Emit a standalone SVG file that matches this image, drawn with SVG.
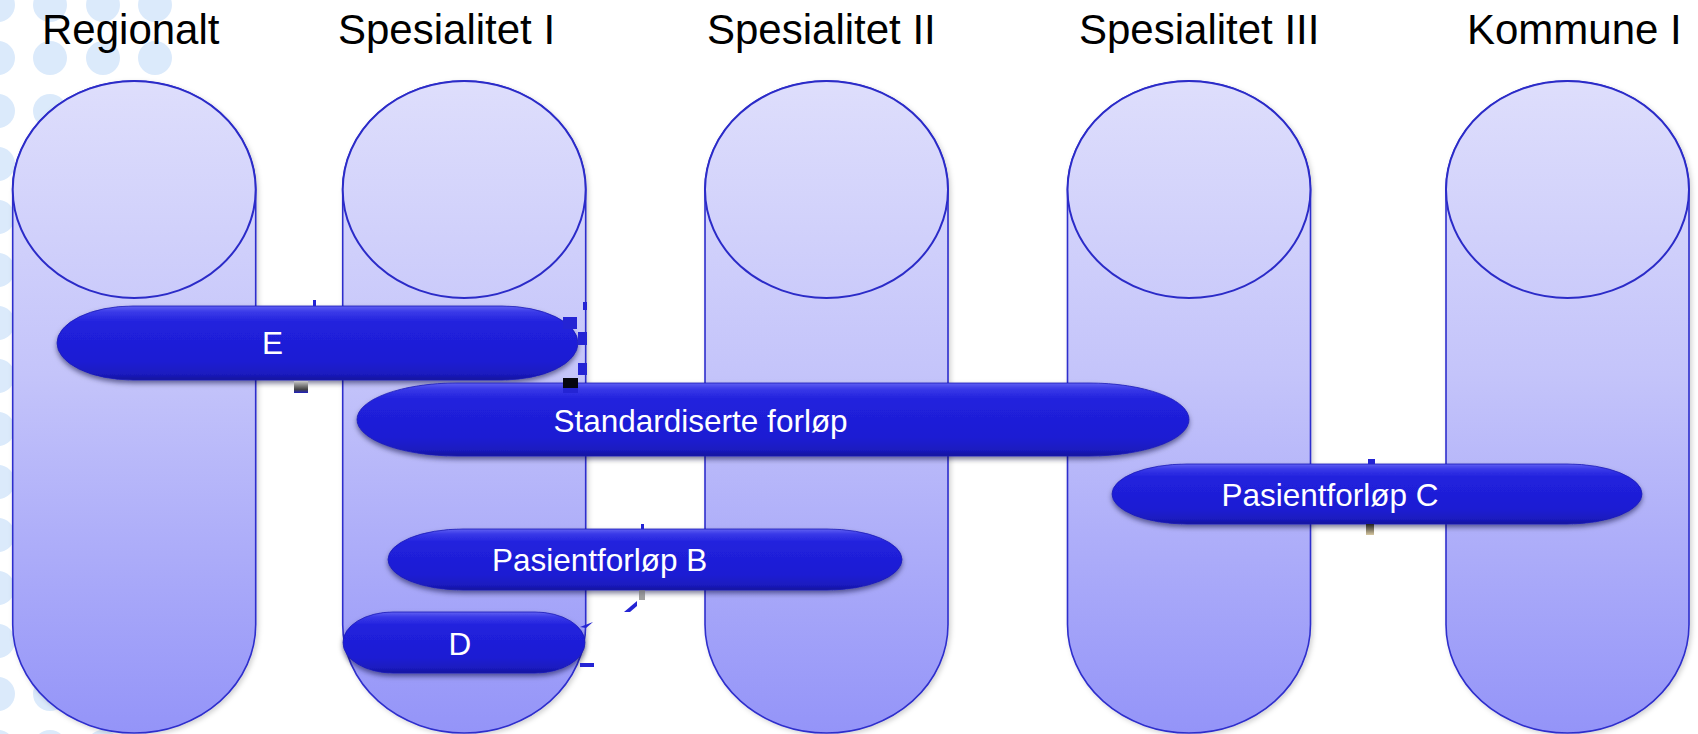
<svg xmlns="http://www.w3.org/2000/svg" width="1698" height="734" viewBox="0 0 1698 734">
<style>
.title{font-family:"Liberation Sans",Arial,sans-serif;font-size:42px;fill:#000}
.lbl{font-family:"Liberation Sans",Arial,sans-serif;font-size:31.5px;fill:#fff}
.col{fill:url(#colGrad);stroke:#2e2ecc;stroke-width:1.6;filter:url(#colShadow)}
.cap{fill:url(#colGrad);stroke:#2b2bc8;stroke-width:2}
.pill{fill:url(#pillGrad);stroke:#1a1ab8;stroke-width:0.8;filter:url(#pillShadow)}
.dot{fill:#dbeafb}
.mk{fill:#2424d4}
</style>
<defs>
<linearGradient id="colGrad" gradientUnits="userSpaceOnUse" x1="0" y1="81" x2="0" y2="733">
<stop offset="0" stop-color="#dedefc"/>
<stop offset="0.45" stop-color="#c4c4fa"/>
<stop offset="1" stop-color="#9494f8"/>
</linearGradient>
<linearGradient id="pillGrad" x1="0" y1="0" x2="0" y2="1">
<stop offset="0" stop-color="#6060f2"/>
<stop offset="0.08" stop-color="#3a3ae8"/>
<stop offset="0.22" stop-color="#2121dd"/>
<stop offset="0.75" stop-color="#1d1dd3"/>
<stop offset="0.92" stop-color="#1a1abf"/>
<stop offset="1" stop-color="#14149c"/>
</linearGradient>
<linearGradient id="grayGrad" x1="0" y1="0" x2="0" y2="1">
<stop offset="0" stop-color="#c8c8c8"/>
<stop offset="0.7" stop-color="#444"/>
<stop offset="1" stop-color="#2020c0"/>
</linearGradient>
<linearGradient id="tanGrad" x1="0" y1="0" x2="0" y2="1">
<stop offset="0" stop-color="#222"/>
<stop offset="1" stop-color="#d8c8a0"/>
</linearGradient>
<filter id="colShadow" x="-10%" y="-10%" width="120%" height="120%">
<feDropShadow dx="2" dy="2" stdDeviation="2.5" flood-color="#000" flood-opacity="0.18"/>
</filter>
<filter id="pillShadow" x="-10%" y="-20%" width="120%" height="150%">
<feDropShadow dx="0" dy="3" stdDeviation="2.5" flood-color="#000030" flood-opacity="0.5"/>
</filter>
</defs>
<rect width="1698" height="734" fill="#fff"/>
<g id="background-dots">
<circle class="dot" cx="-2" cy="5" r="17"/><circle class="dot" cx="50" cy="5" r="17"/><circle class="dot" cx="103" cy="5" r="17"/><circle class="dot" cx="155" cy="5" r="17"/>
<circle class="dot" cx="-2" cy="58" r="17"/><circle class="dot" cx="50" cy="58" r="17"/><circle class="dot" cx="103" cy="58" r="17"/><circle class="dot" cx="155" cy="58" r="17"/>
<circle class="dot" cx="-2" cy="111" r="17"/><circle class="dot" cx="50" cy="111" r="17"/><circle class="dot" cx="103" cy="111" r="17"/><circle class="dot" cx="155" cy="111" r="17"/>
<circle class="dot" cx="-2" cy="164" r="17"/><circle class="dot" cx="-2" cy="217" r="17"/><circle class="dot" cx="-2" cy="270" r="17"/><circle class="dot" cx="-2" cy="323" r="17"/><circle class="dot" cx="-2" cy="376" r="17"/><circle class="dot" cx="-2" cy="429" r="17"/><circle class="dot" cx="-2" cy="482" r="17"/><circle class="dot" cx="-2" cy="535" r="17"/><circle class="dot" cx="-2" cy="588" r="17"/><circle class="dot" cx="-2" cy="641" r="17"/><circle class="dot" cx="-2" cy="694" r="17"/><circle class="dot" cx="-2" cy="747" r="17"/>
<circle class="dot" cx="50" cy="641" r="17"/><circle class="dot" cx="50" cy="694" r="17"/><circle class="dot" cx="50" cy="747" r="17"/><circle class="dot" cx="103" cy="747" r="17"/>
</g>
<g id="titles">
<text class="title" x="42" y="44">Regionalt</text>
<text class="title" x="338" y="44">Spesialitet I</text>
<text class="title" x="707" y="44">Spesialitet II</text>
<text class="title" x="1079" y="44">Spesialitet III</text>
<text class="title" x="1467" y="44">Kommune I</text>
</g>
<g id="col-regionalt">
<rect class="col" x="12.7" y="81" width="243" height="652" rx="121.5" ry="108.5"/>
<ellipse class="cap" cx="134.2" cy="189.5" rx="121.5" ry="108.5"/>
</g>
<g id="col-spesialitet-1">
<rect class="col" x="342.7" y="81" width="243" height="652" rx="121.5" ry="108.5"/>
<ellipse class="cap" cx="464.2" cy="189.5" rx="121.5" ry="108.5"/>
</g>
<g id="col-spesialitet-2">
<rect class="col" x="705" y="81" width="243" height="652" rx="121.5" ry="108.5"/>
<ellipse class="cap" cx="826.5" cy="189.5" rx="121.5" ry="108.5"/>
</g>
<g id="col-spesialitet-3">
<rect class="col" x="1067.5" y="81" width="243" height="652" rx="121.5" ry="108.5"/>
<ellipse class="cap" cx="1189" cy="189.5" rx="121.5" ry="108.5"/>
</g>
<g id="col-kommune-1">
<rect class="col" x="1446" y="81" width="243" height="652" rx="121.5" ry="108.5"/>
<ellipse class="cap" cx="1567.5" cy="189.5" rx="121.5" ry="108.5"/>
</g>
<g id="pill-e">
<rect class="pill" x="57" y="306" width="521" height="74" rx="76" ry="37"/>
<text class="lbl" x="262" y="354">E</text>
</g>
<g id="pill-standardiserte">
<rect class="pill" x="357" y="383" width="832" height="73" rx="100" ry="36.5"/>
<text class="lbl" x="553.5" y="432">Standardiserte forløp</text>
</g>
<g id="pill-c">
<rect class="pill" x="1112" y="464" width="530" height="60" rx="75" ry="30"/>
<text class="lbl" x="1221.5" y="506">Pasientforløp C</text>
</g>
<g id="pill-b">
<rect class="pill" x="388" y="529" width="514" height="61" rx="75" ry="30.5"/>
<text class="lbl" x="492" y="571">Pasientforløp B</text>
</g>
<g id="pill-d">
<rect class="pill" x="343" y="612" width="242" height="61" rx="50" ry="30.5"/>
<text class="lbl" x="448.5" y="655">D</text>
</g>
<g id="connectors">
<rect class="mk" x="313" y="300" width="3" height="6"/>
<rect x="294" y="381" width="14" height="12" fill="url(#grayGrad)"/>
<rect class="mk" x="583" y="302" width="4" height="8"/>
<rect class="mk" x="578" y="332" width="9" height="13"/>
<rect class="mk" x="578" y="363" width="9" height="12"/>
<rect class="mk" x="563" y="317" width="14" height="12"/>
<rect x="563" y="378" width="15" height="10" fill="#050510"/>
<rect class="mk" x="563" y="388" width="15" height="5"/>
<rect class="mk" x="641" y="524" width="3" height="5"/>
<rect x="639" y="590" width="6" height="10" fill="#777" opacity="0.7"/>
<polygon class="mk" points="624,612 637,601 637,606 630,612"/>
<polygon class="mk" points="580,627 593,622 586,628"/>
<rect class="mk" x="580" y="663" width="14" height="4"/>
<rect class="mk" x="1368" y="459" width="7" height="5"/>
<rect x="1366" y="524" width="8" height="11" fill="url(#tanGrad)"/>
</g>
</svg>
